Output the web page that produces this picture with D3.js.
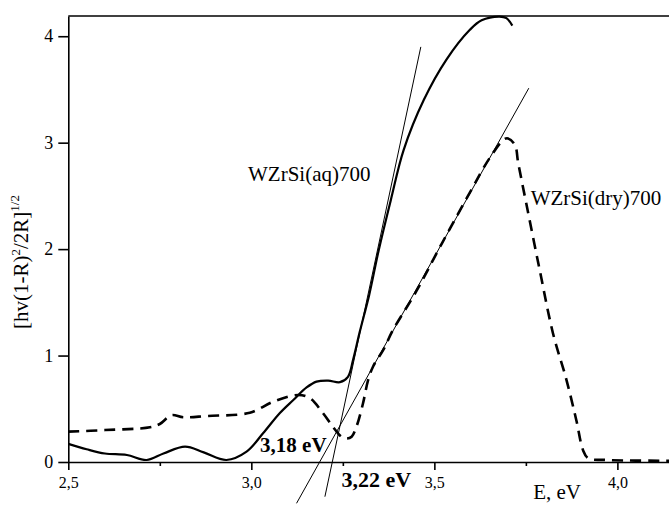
<!DOCTYPE html>
<html>
<head>
<meta charset="utf-8">
<script src="https://cdn.jsdelivr.net/npm/d3@7"></script>
<style>
    body { margin: 0; background: #fff; }
    svg { display: block; font-family: "Liberation Serif", "Times New Roman", serif; }
    svg text { font-family: "Liberation Serif", "Times New Roman", serif !important; }
    .axis path, .axis line { stroke: #000; stroke-width: 1.6px; }
    .axis text { fill: #000; }
    .curve { fill: none; stroke: #000; }
    .tangent { stroke: #000; stroke-width: 1px; }
</style>
</head>
<body>
<svg id="chart" width="669" height="505"></svg>
<script>
    // energy (eV) / [hv(1-R)^2/2R]^1/2
    const aqE   = [2.5, 2.55, 2.6, 2.66, 2.714, 2.76, 2.819, 2.87, 2.932, 2.987, 3.032, 3.078, 3.114, 3.151, 3.178, 3.21, 3.242, 3.264, 3.278, 3.296, 3.322, 3.348, 3.381, 3.416, 3.471, 3.533, 3.597, 3.629, 3.678, 3.697, 3.713];
    const aqY   = [0.17, 0.12, 0.08, 0.066, 0.019, 0.08, 0.144, 0.09, 0.019, 0.097, 0.27, 0.46, 0.58, 0.70, 0.755, 0.765, 0.75, 0.80, 0.96, 1.22, 1.57, 1.99, 2.46, 2.93, 3.40, 3.78, 4.06, 4.15, 4.185, 4.17, 4.10];

    const dryE  = [2.5, 2.6, 2.723, 2.75, 2.782, 2.814, 2.878, 2.996, 3.06, 3.128, 3.16, 3.196, 3.223, 3.246, 3.26, 3.274, 3.287, 3.305, 3.319, 3.333, 3.36, 3.387, 3.45, 3.52, 3.60, 3.65, 3.69, 3.701, 3.72, 3.729, 3.751, 3.788, 3.824, 3.861, 3.888, 3.906, 3.92, 3.97, 4.141];
    const dryY  = [0.285, 0.30, 0.326, 0.357, 0.44, 0.42, 0.432, 0.463, 0.567, 0.63, 0.60, 0.458, 0.33, 0.238, 0.22, 0.238, 0.33, 0.55, 0.77, 0.90, 1.05, 1.24, 1.60, 2.05, 2.55, 2.85, 3.03, 3.04, 2.98, 2.81, 2.43, 1.80, 1.21, 0.77, 0.39, 0.113, 0.035, 0.019, 0.012];

    // tangent lines (end points)
    const tangentAq  = [[3.201, -0.326], [3.463, 3.90]];
    const tangentDry = [[3.1235, -0.388], [3.758, 3.512]];

    const xTicks = [2.5, 3.0, 3.5, 4.0];
    const xMinor = [2.75, 3.25, 3.75];
    const yTicks = [0, 1, 2, 3, 4];

    const notes = [
        {text: "WZrSi(aq)700", e: 2.991, v: 2.64, size: 21, weight: "normal"},
        {text: "WZrSi(dry)700", e: 3.763, v: 2.415, size: 21, weight: "normal"},
        {text: "3,18 eV", e: 3.024, v: 0.095, size: 21, weight: "bold"},
        {text: "3,22 eV", e: 3.246, v: -0.232, size: 22, weight: "bold"}
    ];

    const margin = {top: 16, left: 68.3, bottom: 43};
    const W = 669, H = 505;

    const x = d3.scaleLinear().domain([2.5, 4.141]).range([margin.left, W]);
    const y = d3.scaleLinear().domain([0, 4.19]).range([H - margin.bottom, margin.top]);

    const svg = d3.select("#chart");
    const fmt = d => d3.format(".1f")(d).replace(".", ",");

    // frame top
    svg.append("line")
        .attr("x1", x(2.5)).attr("x2", x(4.141))
        .attr("y1", y(4.19)).attr("y2", y(4.19))
        .attr("stroke", "#000").attr("stroke-width", 1.6);

    svg.append("g").attr("class", "x axis")
        .attr("transform", "translate(0," + y(0) + ")")
        .call(d3.axisBottom(x).tickValues(xTicks).tickFormat(fmt).tickSize(8).tickPadding(7).tickSizeOuter(0))
        .selectAll("text").attr("font-size", 16);

    svg.append("g").attr("class", "x axis minor")
        .attr("transform", "translate(0," + y(0) + ")")
        .call(d3.axisBottom(x).tickValues(xMinor).tickFormat("").tickSize(4).tickSizeOuter(0))
        .select(".domain").remove();

    svg.append("g").attr("class", "y axis")
        .attr("transform", "translate(" + x(2.5) + ",0)")
        .call(d3.axisLeft(y).tickValues(yTicks).tickFormat(d3.format("d")).tickSize(10).tickPadding(5).tickSizeOuter(0))
        .selectAll("text").attr("font-size", 18);

    // curves
    const line = d3.line().x(d => x(d[0])).y(d => y(d[1])).curve(d3.curveCatmullRom.alpha(0.5));

    svg.append("path").attr("class", "curve aq")
        .attr("d", line(aqE.map((e, i) => [e, aqY[i]])))
        .attr("stroke-width", 2.2);

    svg.append("path").attr("class", "curve dry")
        .attr("d", line(dryE.map((e, i) => [e, dryY[i]])))
        .attr("stroke-width", 2.6)
        .attr("stroke-dasharray", "11,7");

    svg.selectAll("line.tangent").data([tangentAq, tangentDry])
        .enter().append("line").attr("class", "tangent")
        .attr("x1", d => x(d[0][0])).attr("y1", d => y(d[0][1]))
        .attr("x2", d => x(d[1][0])).attr("y2", d => y(d[1][1]));

    svg.selectAll("text.note").data(notes)
        .enter().append("text").attr("class", "note")
        .attr("x", d => x(d.e)).attr("y", d => y(d.v))
        .attr("font-size", d => d.size).attr("font-weight", d => d.weight)
        .text(d => d.text);

    svg.append("text")
        .attr("x", x(3.77)).attr("y", 499)
        .attr("font-size", 21)
        .text("E, eV");

    // y title
    const yt = svg.append("text")
        .attr("transform", "translate(28," + 262 + ") rotate(-90)")
        .attr("text-anchor", "middle")
        .attr("font-size", 21);
    yt.append("tspan").text("[hv(1-R)");
    yt.append("tspan").attr("dy", -8).attr("font-size", 13).text("2");
    yt.append("tspan").attr("dy", 8).text("/2R]");
    yt.append("tspan").attr("dy", -9).attr("font-size", 13).text("1/2");
</script>
</body>
</html>
